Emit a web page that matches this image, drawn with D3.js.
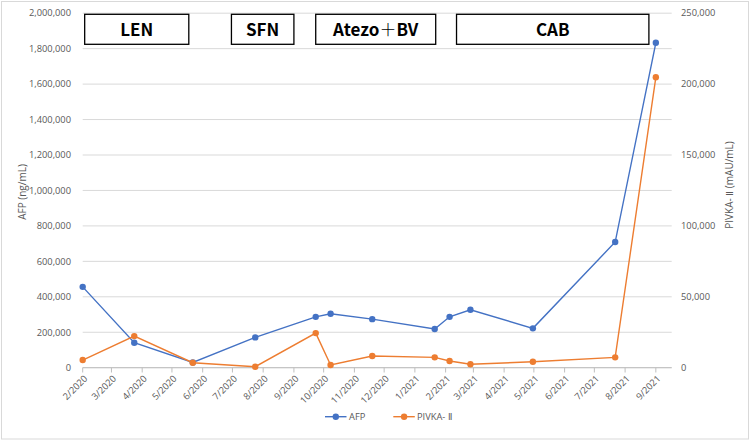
<!DOCTYPE html>
<html><head><meta charset="utf-8">
<script src="https://cdn.jsdelivr.net/npm/d3@7"></script>
<style>body{margin:0;background:#fff}svg{display:block}</style>
</head><body>
<svg id="c" width="750" height="441"></svg>
<script>
const dates = ["2020-02-01","2020-03-24","2020-05-22","2020-07-24","2020-09-23","2020-10-08","2020-11-19","2021-01-21","2021-02-05","2021-02-26","2021-04-30","2021-07-22","2021-09-01"];
const afp = [456000,141000,30000,171000,287000,304000,274000,218000,287000,327000,222000,709000,1833000];
const pivka = [5400,22300,3500,700,24400,1900,8200,7300,4700,2400,4200,7300,204800];
const leftTicks = [0,200000,400000,600000,800000,1000000,1200000,1400000,1600000,1800000,2000000];
const rightTicks = [0,50000,100000,150000,200000,250000];
const gridTicks = [0,25000,50000,75000,100000,125000,150000,175000,200000,225000,250000];
const treatments = [
  {label:"LEN", start:"2020-02-03", end:"2020-05-18"},
  {label:"SFN", start:"2020-06-30", end:"2020-09-01"},
  {label:"Atezo＋BV", start:"2020-09-23", end:"2021-01-22"},
  {label:"CAB", start:"2021-02-12", end:"2021-08-25"}
];
const seriesNames = ["AFP","PIVKA- Ⅱ"];
const colors = ["#4472C4","#ED7D31"];

const svg = d3.select("#c");
const font = "'Open Sans', 'Noto Sans', sans-serif";
const pd = s => d3.utcParse("%Y-%m-%d")(s);

svg.append("rect").attr("x",1.5).attr("y",1.5).attr("width",747).attr("height",437.5)
  .attr("fill","#fff").attr("stroke","#d9d9d9");

const x = d3.scaleUtc().domain([pd("2020-02-01"), pd("2021-09-17")]).range([82.7, 671.7]);
const yL = d3.scaleLinear().domain([0,2000000]).range([367.7,13.2]);
const yR = d3.scaleLinear().domain([0,250000]).range([367.7,13.2]);

// gridlines
svg.append("g").selectAll("line").data(gridTicks).join("line")
  .attr("x1",82.7).attr("x2",671.7)
  .attr("y1",d=>yR(d)).attr("y2",d=>yR(d))
  .attr("stroke","#d9d9d9").attr("stroke-width",1);

// axis labels
const fmt = d3.format(",");
svg.append("g").selectAll("text").data(leftTicks).join("text")
  .attr("x",71).attr("y",d=>yL(d)).attr("dy","0.35em")
  .attr("text-anchor","end").attr("font-family",font).attr("font-size",9.3)
  .attr("fill","#595959").text(d=>fmt(d));
svg.append("g").selectAll("text").data(rightTicks).join("text")
  .attr("x",681).attr("y",d=>yR(d)).attr("dy","0.35em")
  .attr("text-anchor","start").attr("font-family",font).attr("font-size",9.3)
  .attr("fill","#595959").text(d=>fmt(d));

// axis titles
svg.append("text").attr("transform","translate(26,192) rotate(-90)")
  .attr("text-anchor","middle").attr("font-family",font).attr("font-size",10)
  .attr("fill","#595959").text("AFP (ng/mL)");
svg.append("text").attr("transform","translate(733,185) rotate(-90)")
  .attr("text-anchor","middle").attr("font-family",font).attr("font-size",10)
  .attr("fill","#595959").text("PIVKA- Ⅱ (mAU/mL)");

// x axis
const months = d3.utcMonth.range(pd("2020-02-01"), pd("2021-09-02"));
const xa = svg.append("g");
xa.append("line").attr("x1",82.7).attr("x2",671.7).attr("y1",367.7).attr("y2",367.7)
  .attr("stroke","#bfbfbf");
xa.selectAll("line.t").data(months).join("line").attr("class","t")
  .attr("x1",d=>x(d)).attr("x2",d=>x(d)).attr("y1",367.7).attr("y2",372.5)
  .attr("stroke","#bfbfbf");
xa.selectAll("text").data(months).join("text")
  .attr("transform",d=>`translate(${x(d)+3},377) rotate(-45)`)
  .attr("text-anchor","end").attr("dy","0.35em")
  .attr("font-family",font).attr("font-size",9.3).attr("fill","#595959")
  .text(d=>(d.getUTCMonth()+1)+"/"+d.getUTCFullYear());

// series
const pts = (vals, sc) => dates.map((d,i)=>[x(pd(d)), sc(vals[i])]);
const series = [pts(afp,yL), pts(pivka,yR)];
series.forEach((p,k)=>{
  svg.append("path").attr("d",d3.line()(p)).attr("fill","none")
    .attr("stroke",colors[k]).attr("stroke-width",1.4);
  svg.append("g").selectAll("circle").data(p).join("circle")
    .attr("cx",d=>d[0]).attr("cy",d=>d[1]).attr("r",3.2).attr("fill",colors[k]);
});

// treatment boxes
const bx = svg.append("g");
treatments.forEach(t=>{
  const x0 = x(pd(t.start)), x1 = x(pd(t.end));
  bx.append("rect").attr("x",x0).attr("y",14.3).attr("width",x1-x0).attr("height",30)
    .attr("fill","#fff").attr("stroke","#000").attr("stroke-width",1.3);
  const tx = bx.append("text").attr("x",(x0+x1)/2).attr("y",36)
    .attr("text-anchor","middle").attr("font-family","'Noto Sans CJK JP', 'Noto Sans', sans-serif")
    .attr("font-weight","bold").attr("font-size",17).attr("fill","#000");
  t.label.split(/(＋)/).forEach(part=>{
    if(!part) return;
    tx.append("tspan").attr("font-weight", part==="＋" ? "300" : "bold").text(part);
  });
});

// legend
const leg = [{x:325, tx:349},{x:393.3, tx:417}];
leg.forEach((l,k)=>{
  svg.append("line").attr("x1",l.x).attr("x2",l.x+21.5).attr("y1",416.7).attr("y2",416.7)
    .attr("stroke",colors[k]).attr("stroke-width",1.4);
  svg.append("circle").attr("cx",l.x+10.8).attr("cy",416.7).attr("r",3.2).attr("fill",colors[k]);
  svg.append("text").attr("x",l.tx).attr("y",416.7).attr("dy","0.35em")
    .attr("font-family",font).attr("font-size",9.3).attr("fill","#595959").text(seriesNames[k]);
});
</script>
</body></html>
